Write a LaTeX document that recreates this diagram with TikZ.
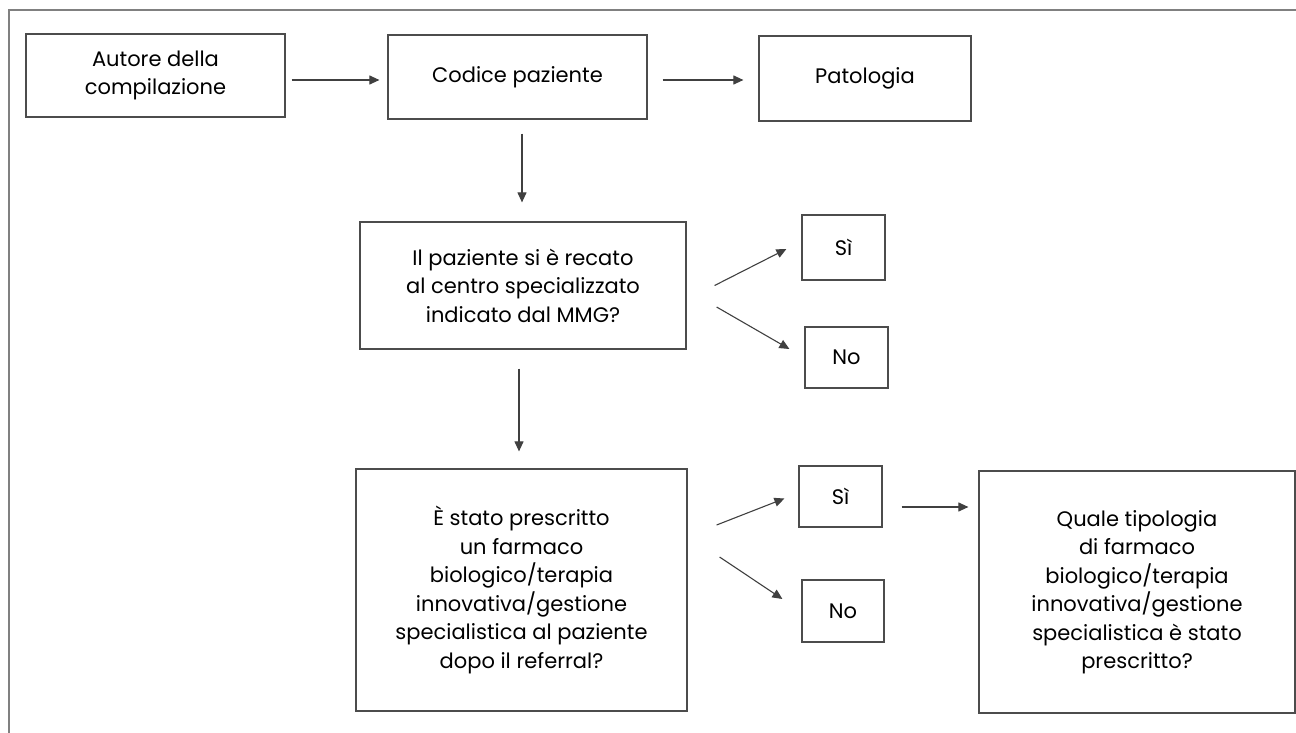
\documentclass[tikz,border=0pt]{standalone}
\usepackage{fontspec}
\setmainfont{Poppins}
\usetikzlibrary{arrows.meta,calc}
\begin{document}
\begin{tikzpicture}[x=1pt,y=-1pt,
  box/.style={draw=black!70, line width=1.2pt, inner sep=0pt, align=center,
    font=\fontsize{21}{28.5}\selectfont, text=black},
  arr/.style={draw=black!75, line width=1.1pt, -{Triangle[length=10pt,width=9pt]}},
]
\useasboundingbox (0,0) rectangle (1296,733);
\draw[black!50, line width=1.6pt] (9,733) -- (9,10) -- (1296,10);

\node[box, minimum width=259pt, minimum height=83pt] (aut) at (155.5,75.5) {Autore della\\compilazione};
\node[box, minimum width=259pt, minimum height=84pt] (cod) at (517.5,77) {Codice paziente};
\node[box, minimum width=212pt, minimum height=85pt] (pat) at (865,78.5) {Patologia};
\node[box, minimum width=326pt, minimum height=127pt] (q1) at (523,285.5) {Il paziente si è recato\\al centro specializzato\\indicato dal MMG?};
\node[box, minimum width=83pt, minimum height=65pt] (si1) at (843.5,247.5) {Sì};
\node[box, minimum width=83pt, minimum height=61pt] (no1) at (846.5,357.5) {No};
\node[box, minimum width=331pt, minimum height=242pt] (q2) at (521.5,590) {È stato prescritto\\un farmaco\\biologico/terapia\\innovativa/gestione\\specialistica al paziente\\dopo il referral?};
\node[box, minimum width=83pt, minimum height=61pt] (si2) at (840.5,496.5) {Sì};
\node[box, minimum width=82pt, minimum height=62pt] (no2) at (843,611) {No};
\node[box, minimum width=316pt, minimum height=242pt] (qua) at (1137,592) {Quale tipologia\\di farmaco\\biologico/terapia\\innovativa/gestione\\specialistica è stato\\prescritto?};

\draw[arr] ($(aut.east)+(6,4.5)$) -- ($(cod.west)+(-8,3)$);
\draw[arr] ($(cod.east)+(15,3)$) -- ($(pat.west)+(-15,1.5)$);
\draw[arr] ($(cod.south -| q1.north)+(-1,14)$) -- ($(q1.north)+(-1,-19)$);
\draw[arr] ($(q1.south -| q2.north)+(-2.5,19)$) -- ($(q2.north)+(-2.5,-17)$);
\draw[arr] ($(q1.east)+(28,0)$) -- ($(si1.west)+(-15,1.5)$);
\draw[arr] ($(q1.east)+(30,21.5)$) -- ($(no1.west)+(-15,-8.5)$);
\draw[arr] ($(q2.east)+(29,-65)$) -- ($(si2.west)+(-14,2)$);
\draw[arr] ($(q2.east)+(32,-33)$) -- ($(no2.west)+(-19,-12)$);
\draw[arr] ($(si2.east)+(19,10.5)$) -- ($(si2.east -| qua.west)+(-10,10.5)$);
\end{tikzpicture}
\end{document}
